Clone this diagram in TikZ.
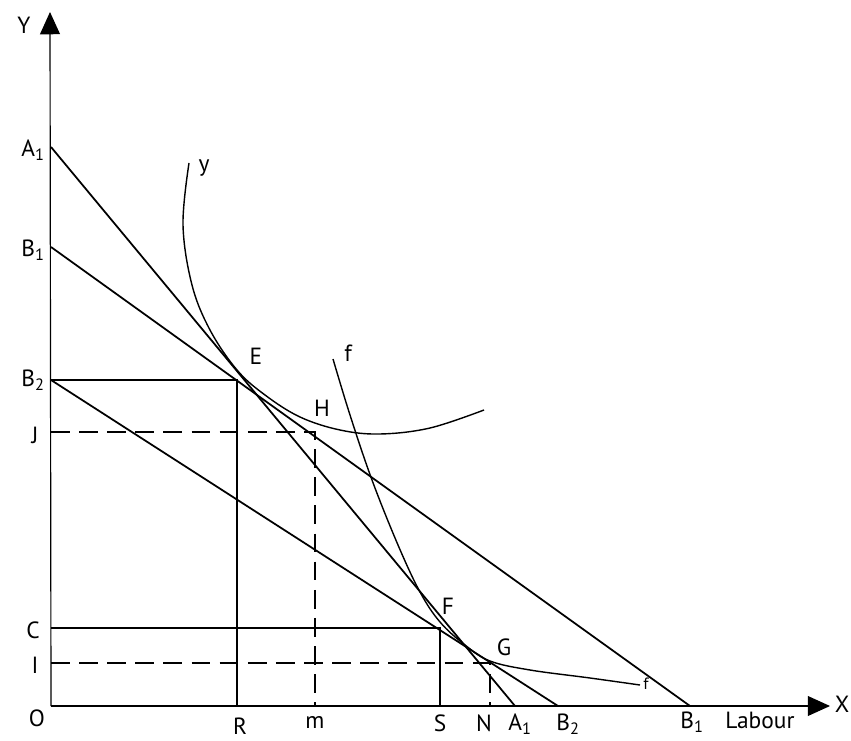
\documentclass[tikz,border=0pt]{standalone}
\usepackage{fontspec}
\setmainfont{PT Sans}
\usetikzlibrary{arrows.meta}

\begin{document}
\begin{tikzpicture}[
  x=0.03cm, y=-0.03cm,
  lbl/.style={font=\fontsize{20}{22}\selectfont, inner sep=0pt},
  small/.style={font=\fontsize{14}{16}\selectfont, inner sep=0pt},
  budget/.style={line width=1.5pt},
  guide/.style={line width=1.5pt, dash pattern=on 16pt off 8pt},
  axis/.style={line width=1pt, -{Triangle[length=19pt, width=17pt]}},
  indiff/.style={line width=1.2pt}
]
\useasboundingbox (0,0) rectangle (851,741);

% axes
\coordinate (O) at (51,706);
\coordinate (Ytop) at (50,12);
\coordinate (Xend) at (830,706);
\draw[axis] (O) -- (Ytop);
\draw[axis] (O) -- (Xend);

% points on the axes
\coordinate (A1y) at (51,147);
\coordinate (B1y) at (51,247);
\coordinate (B2y) at (51,380);
\coordinate (Jy)  at (51,432);
\coordinate (Cy)  at (51,628);
\coordinate (Iy)  at (51,663);
\coordinate (R)   at (237,706);
\coordinate (m)   at (315,706);
\coordinate (S)   at (440,706);
\coordinate (N)   at (490,706);
\coordinate (A1x) at (515,706);
\coordinate (B2x) at (558,706);
\coordinate (B1x) at (690,706);

% equilibrium points
\coordinate (E) at (237,380);
\coordinate (H) at (315,432);
\coordinate (F) at (440,628);
\coordinate (G) at (490,663);

% budget lines
\draw[budget] (A1y) -- (A1x);
\draw[budget] (B1y) -- (B1x);
\draw[budget] (B2y) -- (B2x);

% projections
\draw[budget] (B2y) -- (E) -- (R);
\draw[budget] (Cy) -- (F) -- (S);
\draw[guide] (Jy) -- (H) -- (m);
\draw[guide] (Iy) -- (G) -- (N);

% indifference curves
\draw[indiff] plot[smooth, tension=0.6] coordinates {(189,163) (183,225) (192,285) (210,330) (237,370) (265,395) (300,417) (340,430) (380,434) (430,428) (484,410)};
\draw[indiff] plot[smooth, tension=0.6] coordinates {(333,359) (350,415) (372,480) (398,545) (420,592) (440,622) (465,645) (490,661) (530,670) (590,678) (640,685)};

% labels
\node[lbl] (tY)   at (24,25)  {Y};
\node[lbl] (tX)   at (842,704) {X};
\node[lbl] (tA1y) at (33,150) {A\textsubscript{1}};
\node[lbl] (tB1y) at (33,250) {B\textsubscript{1}};
\node[lbl] (tB2y) at (33,380) {B\textsubscript{2}};
\node[lbl] (tJ)   at (35,435) {J};
\node[lbl] (tC)   at (33,630) {C};
\node[lbl] (tI)   at (35,665) {I};
\node[lbl] (tO)   at (37,718) {O};
\node[lbl] (tR)   at (240,726) {R};
\node[lbl] (tm)   at (315,722) {m};
\node[lbl] (tS)   at (440,723) {S};
\node[lbl] (tN)   at (484,723) {N};
\node[lbl] (tA1x) at (520,724) {A\textsubscript{1}};
\node[lbl] (tB2x) at (568,724) {B\textsubscript{2}};
\node[lbl] (tB1x) at (692,722) {B\textsubscript{1}};
\node[lbl] (tLab) at (760,720) {Labour};
\node[lbl] (tE)   at (256,356) {E};
\node[lbl] (tH)   at (322,408) {H};
\node[lbl] (tF)   at (448,606) {F};
\node[lbl] (tG)   at (504,647) {G};
\node[lbl] (tfa)  at (348,353) {f};
\node[small] (tfb) at (646,684) {f};
\node[lbl] (ty)   at (204,168) {y};
\end{tikzpicture}
\end{document}
